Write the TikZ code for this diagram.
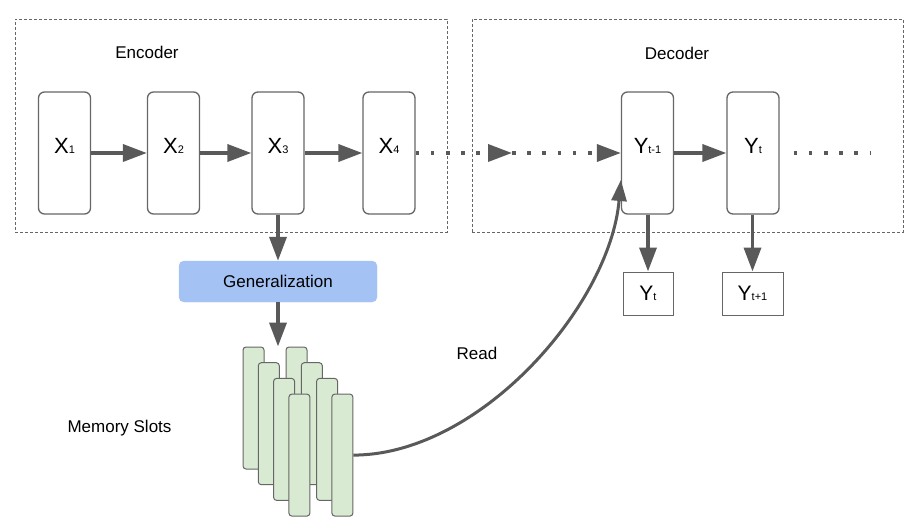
\documentclass[tikz,border=0pt]{standalone}
\usepackage{fontspec}
\setmainfont{Liberation Sans}
\usetikzlibrary{
  positioning,
  calc,
  arrows.meta
  }
\definecolor{linegray}{HTML}{595959}
\definecolor{boxgray}{HTML}{666666}
\definecolor{genblue}{HTML}{A4C2F4}
\definecolor{slotgreen}{HTML}{D9EAD3}
\newcommand{\subtxt}[1]{{\fontsize{11pt}{11pt}\selectfont #1}}
\tikzset{
  >={Triangle[length=24pt,width=17pt]},
  flow/.style={draw=linegray, line width=3.6pt, ->},
  dots/.style={draw=linegray, line width=3.6pt, dash pattern=on 3.5pt off 11.7pt, ->},
  frame/.style={draw=boxgray, line width=0.8pt, dash pattern=on 3pt off 2pt,
    minimum width=432pt, minimum height=213pt, inner sep=0pt},
  cell/.style={draw=boxgray, line width=1.3pt, rounded corners=6pt, inner sep=0pt,
    minimum width=52pt, minimum height=122pt, text depth=14pt,
    font=\fontsize{22pt}{22pt}\selectfont},
  outbox/.style={draw=boxgray, line width=1pt, inner sep=0pt,
    minimum width=50pt, minimum height=43pt,
    font=\fontsize{21pt}{21pt}\selectfont},
  slot/.style={draw=boxgray, fill=slotgreen, line width=1pt, rounded corners=3pt,
    inner sep=0pt, minimum width=21pt, minimum height=122pt},
  lab/.style={font=\fontsize{17pt}{17pt}\selectfont},
}

\begin{document}
\begin{tikzpicture}[x=1pt, y=-1pt]
  \useasboundingbox (0,0) rectangle (924,532);
% =========================================================
% (A) Encoder
% =========================================================
  \node[frame] (enc) at (231,125.5) {};
  \node[lab] (enclab) at (147,52) {Encoder};
  \node[cell] (x1) at (64.5,153) {X\subtxt{1}};
  \node[cell] (x2) at (173.5,153) {X\subtxt{2}};
  \node[cell] (x3) at (278,153) {X\subtxt{3}};
  \node[cell] (x4) at (389,153) {X\subtxt{4}};
  \draw[flow] (x1) -- (x2);
  \draw[flow] (x2) -- (x3);
  \draw[flow] (x3) -- (x4);
% =========================================================
% (B) Decoder
% =========================================================
  \node[frame, minimum width=431pt] (dec) at (687.5,125.5) {};
  \node[lab] (declab) at (677,53) {Decoder};
  \node[cell] (yprev) at (647.5,153) {Y\subtxt{t-1}};
  \node[cell] (ycur) at (753,153) {Y\subtxt{t}};
  \draw[flow] (yprev) -- (ycur);
  \node[outbox] (out1) at (648,293.5) {Y\subtxt{t}};
  \node[outbox, minimum width=61pt] (out2) at (752.5,293.5) {Y\subtxt{t+1}};
  \draw[flow] (yprev.south -| out1) -- (out1);
  \draw[flow] (ycur.south -| out2) -- (out2);
  % dotted links
  \coordinate (mid) at (512,153);
  \coordinate (tail) at (870,153);
  \draw[dots] (x4) -- (mid);
  \draw[dots] (mid) -- (yprev);
  \draw[dots, -] (ycur.east) ++(14pt,0) -- (tail);
% =========================================================
% (C) Generalization + memory
% =========================================================
  \node[draw=genblue, fill=genblue, rounded corners=5pt, minimum width=198pt,
    minimum height=41pt, inner sep=0pt, lab] (gen) at (278,281.5) {Generalization};
  \draw[flow] (x3) -- (gen);
  \foreach \i in {0,...,3} {
    \foreach \g in {0,1} {
      \node[slot] (slot-\g-\i) at ({253.5+43*\g+15.3*\i},{408+15.7*\i}) {};
    }
  }
  \draw[flow] (gen) -- (gen.south |- slot-0-0.north);
  \node[lab] (memlab) at (119.5,428) {Memory Slots};
  \node[lab] (readlab) at (477,353) {Read};
  \draw[draw=linegray, line width=3pt, -{Triangle[length=21pt,width=15pt]}]
    (slot-1-3.east) .. controls (480,455) and (610,305) .. ([yshift=-27pt]yprev.west);
\end{tikzpicture}
\end{document}
